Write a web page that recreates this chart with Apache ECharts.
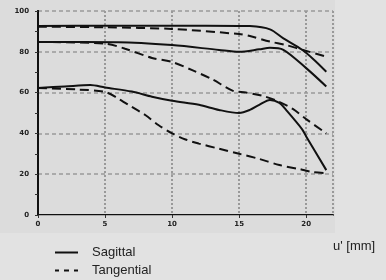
<!DOCTYPE html>
<html>
<head>
<meta charset="utf-8">
<script src="https://cdn.jsdelivr.net/npm/echarts@6/dist/echarts.min.js"></script>
<style>
  html, body { margin: 0; padding: 0; background: #e2e2e2; }
  #chart { width: 386px; height: 280px; }
</style>
</head>
<body>
<div id="chart"></div>
<script>
// MTF curves, [u' in mm, contrast %]
const sagittal1 = [[0, 92.6], [5, 92.8], [10, 92.8], [15, 92.7], [15.8, 92.6], [17.3, 91], [18.3, 86.6], [19.7, 81], [20.6, 76], [21.5, 70.2]];
const tangential1 = [[0, 92.3], [5, 92], [10, 91.2], [15, 88.7], [15.8, 87.7], [17.3, 85], [18.5, 83.3], [19.7, 81], [21.5, 77.6]];
const sagittal2 = [[0, 84.8], [6, 84.7], [10, 83.3], [13.5, 80.9], [15, 80], [16.5, 81.2], [17.3, 82], [18.3, 81], [20, 72], [21.5, 63]];
const tangential2 = [[0, 84.8], [5, 84], [6.5, 81.5], [8.5, 77], [10, 75], [11.5, 71], [13, 66.5], [14.5, 61], [15.5, 60], [16.7, 58.5], [17.8, 56], [19, 52], [20, 47], [21.5, 40]];
const sagittal3 = [[0, 62.3], [2, 63], [3.9, 63.7], [5, 62.5], [7, 60.5], [8.5, 58], [10, 56], [12, 54], [13.5, 51.5], [15, 50], [15.8, 51.5], [16.5, 54], [17.3, 56.4], [18, 55], [18.5, 51.5], [19.7, 42], [20, 38.5], [21.5, 22]];
const tangential3 = [[0, 62.3], [3, 61.5], [5, 60.3], [6, 57], [7, 53], [8, 49], [9, 44], [10, 40], [11, 37], [12, 35], [13.5, 32.5], [15, 30], [16.5, 27.5], [18, 24.5], [19.5, 22.5], [20.5, 21], [21.5, 20.5]];

const legendNames = ['Sagittal', 'Tangential'];
const axisTitle = "u' [mm]";

const chart = echarts.init(document.getElementById('chart'));

// solid = sagittal, dashed = tangential
function curve(name, data, dashed) {
  return {
    name: name,
    type: 'line',
    data: data,
    smooth: 0.3,
    showSymbol: false,
    symbol: 'none',
    silent: true,
    lineStyle: { color: '#111', width: 2, type: dashed ? [9, 5] : 'solid' },
    itemStyle: { color: '#111' }
  };
}

const tickFont = { fontSize: 7, fontWeight: 'bold', color: '#222', fontFamily: 'DejaVu Sans' };

const option = {
  animation: false,
  backgroundColor: '#e2e2e2',
  grid: { left: 38, right: 53, top: 11, bottom: 65 },
  graphic: [
    { type: 'rect', z: -10, shape: { x: 0, y: 0, width: 335, height: 233 }, style: { fill: '#dcdcdc' } },
    { type: 'text', left: 333, top: 240, style: { text: axisTitle, fontSize: 13, fill: '#222', fontFamily: 'Liberation Sans' } }
  ],
  legend: {
    data: [
      // legend keys drawn as plain paths: a bar and three short dashes
      { name: legendNames[0], icon: 'path://M0,0h23v2h-23z' },
      { name: legendNames[1], icon: 'path://M0,0h4v2h-4zM9,0h5v2h-5zM19,0h4v2h-4z' }
    ],
    orient: 'vertical',
    left: 55,
    top: 246,
    itemWidth: 23,
    itemHeight: 2,
    itemGap: 5,
    padding: 0,
    itemStyle: { color: '#111' },
    textStyle: { fontSize: 13, color: '#222', fontFamily: 'Liberation Sans', padding: [0, 0, 0, 9] }
  },
  xAxis: [
    {
      type: 'value', min: 0, max: 22, interval: 5,
      axisLine: { lineStyle: { color: '#111', width: 2 } },
      axisTick: { show: true, length: 3, lineStyle: { color: '#333' } },
      axisLabel: Object.assign({ margin: 6, showMaxLabel: false }, tickFont),
      splitLine: { show: true, lineStyle: { color: '#999', width: 2, type: [2, 2] } }
    },
    {
      type: 'value', position: 'top', min: 0, max: 22,
      axisLine: { show: true, lineStyle: { color: '#aaa', width: 1 } },
      axisTick: { show: false }, axisLabel: { show: false }, splitLine: { show: false }
    }
  ],
  yAxis: [
    {
      type: 'value', min: 0, max: 100, interval: 20,
      axisLine: { show: true, lineStyle: { color: '#111', width: 2 } },
      axisTick: { show: true, length: 3, lineStyle: { color: '#333' } },
      minorTick: { show: true, splitNumber: 2, length: 3, lineStyle: { color: '#333' } },
      axisLabel: Object.assign({ margin: 9 }, tickFont),
      splitLine: { show: true, lineStyle: { color: '#999', width: 1.5, type: [4, 3] } }
    },
    {
      type: 'value', position: 'right', min: 0, max: 100,
      axisLine: { show: true, lineStyle: { color: '#111', width: 2 } },
      axisTick: { show: false }, axisLabel: { show: false }, splitLine: { show: false }
    }
  ],
  series: [
    curve(legendNames[0], sagittal1, false),
    curve(legendNames[1], tangential1, true),
    curve(legendNames[0], sagittal2, false),
    curve(legendNames[1], tangential2, true),
    curve(legendNames[0], sagittal3, false),
    curve(legendNames[1], tangential3, true)
  ]
};

chart.setOption(option);
</script>
</body>
</html>
